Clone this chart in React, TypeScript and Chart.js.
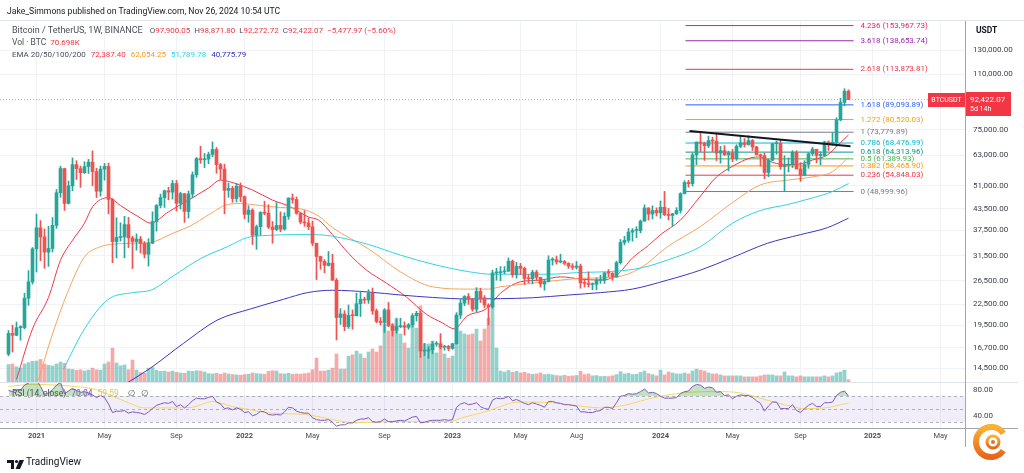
import React, { useEffect, useRef } from 'react';
import { Chart, registerables } from 'chart.js';

Chart.register(...registerables);

const FONT = 'Roboto, "Noto Sans", "DejaVu Sans", sans-serif';

// BINANCE BTCUSDT weekly candles, week index 0 = week of 2020-11-16
const opens = [
  15960, 18410, 18180, 19150, 19170, 23480, 26280,
  33000, 38150, 35830, 32260, 33090, 38800, 48580, 57410,
  45140, 50970, 59000, 57350, 55800, 58200, 60000, 56250, 49100,
  57200, 58240, 46400, 34700, 35700, 35800, 39000, 35600, 34700,
  35300, 34250, 31800, 34300, 39850, 44500, 47000, 49250, 48800,
  51800, 45200, 48300, 42700, 48200, 55000, 61500, 61000, 61300,
  63300, 65500, 59000, 57200, 49400, 50100, 46700, 50800,
  47300, 41850, 43100, 36250, 38450, 42400, 42200, 38350, 37700,
  38800, 37800, 41300, 46850, 46400, 42150, 39700, 39450, 38450,
  34300, 31300, 30280, 29450, 29900, 26580, 20550, 21050,
  19300, 20850, 20800, 22600, 23300, 23180, 24300, 21500, 20000,
  19850, 21650, 19400, 18800, 19300, 19400, 19200, 19550, 20800,
  21150, 16300, 16300, 16450, 17100, 17100, 16750, 16850,
  16600, 17150, 20900, 22700, 23750, 23300, 21750, 24600, 23550,
  22400, 22100, 27950, 27990, 28150, 28300, 30300, 27600, 29250,
  28850, 26900, 26850, 28100, 27100, 25900, 26350, 30550, 30600,
  30150, 30250, 29850, 29300, 29050, 29300, 26100, 26000, 25800,
  25850, 26550, 26550, 27950, 27900, 27150, 30000, 34500, 35000,
  37050, 37450, 37450, 39950, 43750, 41950, 43000,
  42300, 43950, 41750, 41550, 42050, 43000, 48300, 52150, 51750,
  63100, 68950, 68400, 67200, 69650, 69350, 63900, 64950, 63100,
  63900, 61500, 66950, 68550, 67750, 69650, 66650, 63200, 62750,
  55850, 60800, 68150, 68250, 58150, 58700, 58950, 64250, 57300,
  54850, 59150, 63600, 65600, 62850, 62850, 68950, 67950, 68750,
  80350, 90600, 97900.05,
];
const highs = [
  18790, 19500, 19920, 19420, 24300, 28400, 33300,
  41950, 40100, 37850, 38530, 40950, 49700, 58350, 57530,
  52650, 61800, 60600, 58400, 60200, 61200, 64850, 57500, 58400,
  59500, 59600, 46600, 40900, 39500, 41300, 41000, 36000, 36600,
  35950, 34700, 35400, 42600, 44800, 48150, 49500, 50500, 52900,
  52900, 48800, 48300, 49200, 56100, 62000, 67000, 63700, 64300,
  69000, 66400, 59500, 59200, 51950, 50800, 51850, 52000,
  47550, 44450, 43500, 38900, 42650, 45850, 44750, 39850, 45400,
  42600, 42350, 46900, 48200, 47200, 42450, 42950, 40800, 40000,
  34300, 31350, 30650, 32400, 31800, 26900, 21850, 21550,
  22400, 21650, 24300, 24650, 23650, 24900, 25200, 21800, 20550,
  21850, 22800, 19700, 20350, 20450, 19950, 19700, 21100, 21450,
  21500, 17200, 16800, 17400, 17400, 18400, 16950, 16950,
  17200, 21250, 23350, 23900, 24250, 23450, 25250, 25150, 23900,
  22600, 28500, 28850, 29200, 29200, 31000, 30550, 30050, 29850,
  29100, 27650, 28450, 28450, 27150, 26800, 31450, 31050, 31400,
  31800, 30450, 30000, 29800, 30250, 29700, 26800, 28150, 26100,
  27000, 27500, 28050, 28600, 28000, 30300, 35200, 35950, 38000,
  37950, 38450, 40250, 44700, 43800, 44400, 43800,
  45900, 49050, 43600, 42150, 43850, 48600, 52800, 52950, 64000,
  69000, 73780, 68900, 71800, 71300, 72800, 66900, 67250, 64750,
  65500, 67700, 71950, 70600, 71950, 70200, 66950, 63500, 63850,
  61350, 68400, 69400, 70000, 62750, 61800, 65000, 64950, 59800,
  60650, 64100, 66500, 65600, 64450, 69400, 69500, 73600, 81500,
  93250, 99600, 98871.8,
];
const lows = [
  15770, 16190, 18110, 17570, 19000, 22350, 25880,
  28130, 30420, 28850, 29240, 32300, 38000, 47100, 43000,
  44950, 49300, 53270, 50430, 55500, 55500, 51000, 47000, 47450,
  53000, 42000, 30000, 31000, 34800, 31000, 33300, 28800, 32700,
  32100, 31000, 29300, 34200, 37300, 43800, 43900, 46300, 46500,
  42800, 43400, 39600, 40800, 46900, 54000, 59500, 57800, 59400,
  62300, 55600, 53200, 42000, 47100, 45500, 45600, 45700,
  40600, 39650, 34000, 32900, 36250, 41700, 37950, 34300, 37450,
  37150, 37550, 40450, 45200, 41900, 39200, 38550, 37700, 33700,
  26700, 28650, 28000, 29300, 26560, 17600, 19600, 18750,
  19050, 18950, 20760, 20700, 22650, 22650, 21000, 19800, 19500,
  18550, 19300, 18100, 18450, 19150, 18200, 18950, 19250, 20050,
  15600, 15800, 15500, 16000, 16850, 16550, 16400, 16350,
  16500, 17100, 20400, 22300, 22500, 21450, 21350, 22800, 21950,
  19550, 21900, 26600, 26500, 27800, 28200, 27150, 26950, 27650,
  25800, 26100, 25900, 26500, 25350, 24800, 26250, 29500, 29700,
  29950, 29550, 28850, 28600, 28700, 25150, 25350, 25350, 24900,
  24900, 26000, 26000, 27200, 26550, 27150, 29700, 33900, 34500,
  34800, 35650, 36850, 39950, 40250, 40550, 41400,
  40750, 41500, 40250, 38550, 41850, 42250, 48150, 50500, 50900,
  59000, 64500, 60750, 66300, 64500, 60650, 59600, 62800, 56550,
  60200, 60750, 66300, 66600, 67450, 65050, 63000, 58400, 53500,
  54250, 60600, 63400, 57100, 49000, 56100, 57800, 57200, 52550,
  54600, 57500, 62700, 59800, 58900, 62450, 65050, 67450, 66850,
  79800, 88600, 92272.72,
];
const closes = [
  18410, 18180, 19150, 19170, 23480, 26280, 33000,
  38150, 35830, 32260, 33090, 38800, 48580, 57410, 45140,
  50970, 59000, 57350, 55800, 58200, 60000, 56250, 49100, 57200,
  58240, 46400, 34700, 35700, 35800, 39000, 35600, 34700, 35300,
  34250, 31800, 34300, 39850, 44500, 47000, 49250, 48800, 51800,
  45200, 48300, 42700, 48200, 55000, 61500, 61000, 61300, 63300,
  65500, 59000, 57200, 49400, 50100, 46700, 50800, 47300,
  41850, 43100, 36250, 38450, 42400, 42200, 38350, 37700, 38800,
  37800, 41300, 46850, 46400, 42150, 39700, 39450, 38450, 34300,
  31300, 30280, 29450, 29900, 26580, 20550, 21050, 19300,
  20850, 20800, 22600, 23300, 23180, 24300, 21500, 20000, 19850,
  21650, 19400, 18800, 19300, 19400, 19200, 19550, 20800, 21150,
  16300, 16300, 16450, 17100, 17100, 16750, 16850, 16600,
  17150, 20900, 22700, 23750, 23300, 21750, 24600, 23550, 22400,
  22100, 27950, 27990, 28150, 28300, 30300, 27600, 29250, 28850,
  26900, 26850, 28100, 27100, 25900, 26350, 30550, 30600, 30150,
  30250, 29850, 29300, 29050, 29300, 26100, 26000, 25800, 25850,
  26550, 26550, 27950, 27900, 27150, 30000, 34500, 35000, 37050,
  37450, 37450, 39950, 43750, 41950, 43000, 42300,
  43950, 41750, 41550, 42050, 43000, 48300, 52150, 51750, 63100,
  68950, 68400, 67200, 69650, 69350, 63900, 64950, 63100, 63900,
  61500, 66950, 68550, 67750, 69650, 66650, 63200, 62750, 55850,
  60800, 68150, 68250, 58150, 58700, 58950, 64250, 57300, 54850,
  59150, 63600, 65600, 62850, 62850, 68950, 67950, 68750, 80350,
  90600, 97900.05, 92422.07,
];
// Volume in thousands of BTC
const volumesK = [
  540, 560, 470, 430, 560, 600, 640,
  650, 700, 560, 520, 500, 560, 620, 580,
  400, 390, 360, 380, 340, 370, 430, 380, 370,
  560, 620, 1050, 590, 500, 530, 380, 680, 370,
  290, 270, 430, 450, 360, 330, 340, 310, 340,
  300, 280, 270, 340, 330, 350, 340, 310, 260,
  250, 270, 240, 280, 250, 230, 220, 210,
  230, 240, 280, 260, 250, 240, 330, 350, 340,
  260, 250, 270, 240, 250, 240, 260, 280, 380,
  740, 340, 340, 370, 430, 870, 400, 400,
  800, 840, 960, 870, 740, 930, 1020, 930, 1120,
  1800, 1580, 1800, 1980, 1490, 1210, 1050, 2050, 1670,
  2360, 1180, 1180, 1270, 900, 1210, 870, 740,
  800, 2050, 1580, 1490, 1460, 1490, 1640, 1270, 1640,
  1980, 2480, 1050, 340, 310, 360, 300, 330, 280,
  300, 260, 240, 250, 280, 230, 240, 220, 200,
  190, 210, 180, 190, 200, 330, 230, 250, 190,
  200, 170, 180, 170, 190, 230, 320, 250, 270,
  230, 240, 300, 340, 260, 230, 190,
  370, 220, 310, 280, 250, 250, 280, 250, 340,
  400, 370, 340, 280, 250, 250, 220, 190, 190,
  190, 190, 190, 160, 160, 160, 160, 190, 220,
  220, 220, 190, 190, 310, 190, 190, 160, 190,
  160, 160, 160, 160, 160, 190, 160, 190, 280,
  310, 370, 70.698,
];
const rsiValues = [
  79, 77, 80, 79, 87, 90, 94,
  95, 85, 73, 75, 80, 87, 91, 74,
  78, 82, 79, 76, 77, 75, 72, 68, 71,
  68, 58, 45, 47, 47, 48, 44, 46, 45,
  44, 42, 46, 51, 56, 58, 60, 59, 62,
  54, 57, 52, 57, 63, 67, 66, 66, 68,
  70, 61, 58, 51, 52, 49, 52, 50,
  45, 46, 40, 42, 47, 46, 42, 41, 42,
  41, 46, 53, 52, 47, 45, 44, 44, 37,
  34, 33, 33, 34, 30, 24, 26, 26,
  29, 29, 33, 35, 35, 37, 31, 30, 31,
  35, 31, 31, 32, 33, 32, 35, 38, 39,
  29, 30, 32, 33, 33, 33, 34, 33,
  34, 53, 58, 60, 57, 58, 60, 54, 51,
  50, 64, 67, 66, 67, 70, 63, 65, 62,
  59, 57, 60, 58, 56, 53, 62, 62, 60,
  59, 57, 57, 56, 55, 46, 46, 45, 45,
  47, 48, 53, 53, 51, 60, 70, 71, 74,
  73, 74, 77, 81, 75, 76, 74,
  70, 67, 67, 67, 68, 74, 77, 78, 85,
  88, 87, 82, 84, 83, 76, 77, 71, 72,
  66, 70, 72, 71, 71, 68, 63, 59, 47,
  55, 61, 61, 51, 51, 51, 57, 48, 45,
  51, 56, 59, 54, 54, 60, 60, 61, 71,
  76, 78, 70.04,
];
const rsiMaIdx = [0, 6, 12, 18, 22, 26, 30, 34, 40, 46, 51, 56, 60, 64, 70, 74, 78, 82, 87, 95, 105, 110, 114, 118, 123, 127, 131, 136, 140, 144, 148, 152, 156, 160, 164, 170, 177, 183, 189, 194, 199, 204, 210];
const rsiMaVal = [85, 88, 87, 84, 80, 70, 60, 52, 52, 53, 62, 54, 50, 45, 43, 42, 38, 33, 29, 31, 31, 31, 38, 44, 54, 61, 61, 60, 57, 54, 52, 54, 59, 66, 71, 76, 77, 75, 65, 57, 51, 52, 59.59];

const ema20Idx = [2, 6, 10, 13, 16, 19, 21, 25, 28, 33, 35.5, 40, 45, 50, 53, 56.5, 61, 66, 70.5, 75, 77.5, 81, 85, 89.5, 94.5, 99.5, 104.5, 108.5, 111.5, 114.5, 119.5, 123, 128, 133, 138, 143, 148, 152, 156, 160, 163, 168, 173, 177, 181, 185.5, 188, 191, 194.75, 198, 201, 204.75, 208, 210];
const ema20Val = [13400, 19000, 23600, 30500, 35000, 39400, 44100, 47000, 44500, 40800, 39400, 42600, 46200, 50200, 53000, 51900, 49500, 46200, 44100, 41100, 40250, 36400, 32000, 28500, 26050, 23650, 21000, 19800, 19000, 20700, 21850, 24300, 26300, 26600, 27200, 26800, 26600, 27500, 31000, 33800, 36400, 40250, 47500, 54200, 58300, 61800, 62200, 59900, 59000, 59300, 60900, 63100, 68700, 72387.4];
const ema50Idx = [7.5, 10.5, 14.75, 19, 23, 25.5, 31, 35.5, 41, 45.5, 50, 54.75, 58, 63, 68, 73, 77.5, 81, 90, 98, 106, 115, 120, 123, 131, 138, 144, 152, 158, 164.75, 173, 181, 188, 194.75, 201, 206, 210];
const ema50Val = [13350, 17600, 24400, 31200, 33500, 34000, 34300, 34500, 36700, 38700, 41700, 44800, 45100, 44500, 43900, 43500, 41400, 38200, 33000, 28150, 25400, 25000, 25000, 25400, 26050, 26600, 26950, 27200, 28900, 33500, 38500, 45400, 51300, 53000, 54200, 56200, 62054.25];
const ema100Idx = [13.75, 19, 24.75, 31, 35.5, 41.25, 48, 54.75, 59.75, 64.75, 71.25, 76.25, 81, 90, 98, 106, 115, 121, 127, 135.5, 142, 152, 158, 164.75, 173, 181, 188, 194.75, 201, 206, 210];
const ema100Val = [14400, 19000, 23200, 24400, 24800, 27400, 30850, 33500, 35700, 36200, 36400, 36400, 36000, 34000, 31600, 29700, 28200, 27700, 27700, 27700, 28000, 28300, 28900, 30550, 33500, 39400, 43000, 44800, 46900, 49000, 51789.78];
const ema200Idx = [29.75, 35.5, 43.75, 52.25, 60.5, 68.75, 74.75, 81, 90, 98, 106, 115, 123, 131, 140, 148, 156, 164.75, 173, 181, 189.75, 198, 204.75, 210];
const ema200Val = [13100, 14500, 17200, 20200, 21800, 23300, 24400, 24800, 24500, 24000, 23600, 23350, 23400, 23550, 24000, 24400, 25000, 26600, 28500, 31100, 34300, 36400, 38200, 40775.79];

const timeTickIdx = [7, 24, 42, 59, 76, 94, 111, 128, 142, 163, 181, 198, 216, 233];
const timeTickLabels = ['2021', 'May', 'Sep', '2022', 'May', 'Sep', '2023', 'May', 'Aug', '2024', 'May', 'Sep', '2025', 'May'];
const priceTicks = [130000, 110000, 75000, 63000, 51000, 43500, 37500, 31500, 26500, 22500, 19500, 16700, 14500];
const rsiTicks = [80, 40];

const fibRatios = ['4.236', '3.618', '2.618', '1.618', '1.272', '1', '0.786', '0.618', '0.5', '0.382', '0.236', '0'];
const fibPrices = [153967.73, 138653.74, 113873.81, 89093.89, 80520.03, 73779.89, 68476.99, 64313.96, 61389.93, 58465.9, 54848.03, 48999.96];
const fibColors = ['#e91e63', '#9c27b0', '#f23645', '#2962ff', '#f0a30a', '#787b86', '#00bcd4', '#089981', '#4caf50', '#ff9800', '#f23645', '#787b86'];
const fibStartIdx = 169.25;
const fibEndIdx = 211.25;
const fibLabelIdx = 213;

const trendIdx = [170.25, 210.5];
const trendPrice = [74400, 67000];

const UP = '#26a69a';
const DOWN = '#ef5350';
const UP_VOL = 'rgba(38,166,154,0.5)';
const DOWN_VOL = 'rgba(239,83,80,0.5)';
const TAG_RED = '#f23645';

const fmt2 = (v: number) => v.toLocaleString('en-US', { minimumFractionDigits: 2, maximumFractionDigits: 2 });

export default function App() {
  const ref = useRef<HTMLCanvasElement | null>(null);

  useEffect(() => {
    if (!ref.current) return;
    Chart.defaults.font.family = FONT;
    const N = Math.min(opens.length, highs.length, lows.length, closes.length, volumesK.length, rsiValues.length);
    const weeks = Array.from({ length: N }, (_, i) => i);
    const isUp = (i: number) => closes[i] >= opens[i];
    const lastClose = closes[N - 1];

    const lineDs = (xs: number[], ys: number[], color: string, width: number, extra: any = {}) => ({
      type: 'line',
      data: xs.map((x, k) => ({ x, y: ys[k] })),
      borderColor: color,
      borderWidth: width,
      pointRadius: 0,
      fill: false,
      yAxisID: 'y',
      ...extra,
    });

    const datasets: any[] = [
      {
        type: 'bar',
        data: weeks.map((i) => ({ x: i, y: volumesK[i] })),
        backgroundColor: weeks.map((i) => (isUp(i) ? UP_VOL : DOWN_VOL)),
        barThickness: 3,
        grouped: false,
        yAxisID: 'vol',
        order: 30,
      },
      ...fibPrices.map((p, k) =>
        lineDs([fibStartIdx, fibEndIdx], [p, p], fibColors[k], 1, { order: 20 })
      ),
      lineDs([-2.125, 239.125], [lastClose, lastClose], 'rgba(242,54,69,0.55)', 1, { borderDash: [1, 2], order: 19 }),
      lineDs(ema200Idx, ema200Val, '#3f35c4', 1, { cubicInterpolationMode: 'monotone', order: 10 }),
      lineDs(ema100Idx, ema100Val, '#2fd3e3', 1, { cubicInterpolationMode: 'monotone', order: 10 }),
      lineDs(ema50Idx, ema50Val, '#f7a35c', 1, { cubicInterpolationMode: 'monotone', order: 10 }),
      lineDs(ema20Idx, ema20Val, '#f23645', 1, { cubicInterpolationMode: 'monotone', order: 10 }),
      {
        type: 'bar',
        data: weeks.map((i) => ({ x: i, y: [lows[i], highs[i]] })),
        backgroundColor: weeks.map((i) => (isUp(i) ? UP : DOWN)),
        barThickness: 1,
        grouped: false,
        yAxisID: 'y',
        order: 4,
      },
      {
        type: 'bar',
        data: weeks.map((i) => ({ x: i, y: [opens[i], closes[i]] })),
        backgroundColor: weeks.map((i) => (isUp(i) ? UP : DOWN)),
        barThickness: 3,
        minBarLength: 1,
        grouped: false,
        yAxisID: 'y',
        order: 3,
      },
      lineDs(trendIdx, trendPrice, '#131722', 2, { order: 1 }),
      {
        type: 'line',
        data: rsiMaIdx.map((x, k) => ({ x, y: rsiMaVal[k] })),
        borderColor: '#f2d95c',
        borderWidth: 1,
        pointRadius: 0,
        cubicInterpolationMode: 'monotone',
        fill: false,
        yAxisID: 'rsi',
        order: 6,
      },
      {
        type: 'line',
        data: weeks.map((i) => ({ x: i, y: rsiValues[i] })),
        borderColor: '#7e57c2',
        borderWidth: 1,
        pointRadius: 0,
        fill: { target: { value: 70 }, above: 'rgba(76,175,80,0.35)', below: 'rgba(0,0,0,0)' },
        yAxisID: 'rsi',
        order: 5,
      },
    ];

    const decor = {
      id: 'decor',
      beforeDatasetsDraw(chart: any) {
        const { ctx, chartArea: ca, scales } = chart;
        const r = scales.rsi;
        const y70 = r.getPixelForValue(70);
        const y50 = r.getPixelForValue(50);
        const y30 = r.getPixelForValue(30);
        ctx.save();
        ctx.fillStyle = 'rgba(126,87,194,0.1)';
        ctx.fillRect(ca.left, y70, ca.right - ca.left, y30 - y70);
        ctx.setLineDash([3, 3]);
        ctx.strokeStyle = 'rgba(120,123,134,0.55)';
        ctx.lineWidth = 1;
        [y70, y50, y30].forEach((y) => {
          const yy = Math.round(y) + 0.5;
          ctx.beginPath();
          ctx.moveTo(ca.left, yy);
          ctx.lineTo(ca.right, yy);
          ctx.stroke();
        });
        ctx.restore();
      },
      afterDraw(chart: any) {
        const { ctx, chartArea: ca, scales } = chart;
        const xs = scales.x;
        const ys = scales.y;
        ctx.save();
        ctx.lineWidth = 1;
        ctx.strokeStyle = '#e0e3eb';
        ctx.beginPath();
        ctx.moveTo(0, ca.top - 0.5);
        ctx.lineTo(1024, ca.top - 0.5);
        ctx.moveTo(0, Math.round(scales.rsi.top) + 0.5);
        ctx.lineTo(1018, Math.round(scales.rsi.top) + 0.5);
        ctx.stroke();
        ctx.strokeStyle = '#a3a6af';
        ctx.beginPath();
        ctx.moveTo(0, ca.bottom + 0.5);
        ctx.lineTo(1018, ca.bottom + 0.5);
        ctx.moveTo(ca.right + 0.5, ca.top);
        ctx.lineTo(ca.right + 0.5, 447);
        ctx.stroke();

        ctx.font = `8px ${FONT}`;
        ctx.textBaseline = 'middle';
        ctx.textAlign = 'left';
        const lx = xs.getPixelForValue(fibLabelIdx);
        fibPrices.forEach((p, k) => {
          ctx.fillStyle = fibColors[k];
          ctx.fillText(`${fibRatios[k]} (${fmt2(p)})`, lx, ys.getPixelForValue(p));
        });

        const py = Math.round(ys.getPixelForValue(closes[closes.length - 1]));
        ctx.fillStyle = TAG_RED;
        ctx.fillRect(928, py - 7, 37, 14);
        ctx.fillRect(ca.right + 1, py - 8, 45, 24);
        ctx.fillStyle = '#ffffff';
        ctx.font = `7px ${FONT}`;
        ctx.textAlign = 'center';
        ctx.fillText('BTCUSDT', 946.5, py);
        ctx.font = `8px ${FONT}`;
        ctx.textAlign = 'left';
        ctx.fillText(fmt2(closes[closes.length - 1]), ca.right + 5, py - 0.5);
        ctx.font = `7px ${FONT}`;
        ctx.fillText('5d 14h', ca.right + 5, py + 9);
        ctx.restore();
      },
    };

    const tickFont = { family: FONT, size: 8 };
    const chart = new Chart(ref.current, {
      type: 'bar',
      data: { datasets },
      options: {
        animation: false,
        responsive: false,
        events: [],
        layout: { padding: { top: 21, bottom: 26, left: 0, right: 0 } },
        plugins: { legend: { display: false }, tooltip: { enabled: false } },
        scales: {
          x: {
            type: 'linear',
            min: -2.125,
            max: 239.125,
            offset: false,
            grid: { color: '#f0f2f5', drawTicks: false, offset: false },
            border: { display: false },
            ticks: {
              autoSkip: false,
              maxRotation: 0,
              padding: 4,
              color: '#4a4e59',
              font: (c: any) => ({
                family: FONT,
                size: 7.5,
                weight: c.tick && /^\d{4}$/.test(timeTickLabels[timeTickIdx.indexOf(c.tick.value)] || '') ? 'bold' : 'normal',
              }),
              callback: (v: any) => {
                const k = timeTickIdx.indexOf(Number(v));
                return k >= 0 ? timeTickLabels[k] : '';
              },
            },
            afterBuildTicks: (s: any) => {
              s.ticks = timeTickIdx.map((v) => ({ value: v }));
            },
            afterFit: (s: any) => {
              s.height = 19;
            },
          },
          y: {
            type: 'logarithmic',
            position: 'right',
            stack: 'panes',
            stackWeight: 361,
            weight: 0,
            min: 13170,
            max: 158900,
            grid: { color: '#f0f2f5', drawTicks: false },
            border: { display: false },
            ticks: {
              autoSkip: false,
              padding: 8,
              color: '#3b3f4a',
              font: tickFont,
              callback: (v: any) => fmt2(Number(v)),
            },
            afterBuildTicks: (s: any) => {
              s.ticks = priceTicks.map((v) => ({ value: v }));
            },
            afterFit: (s: any) => {
              s.width = 59;
            },
          },
          rsi: {
            type: 'linear',
            position: 'right',
            stack: 'panes',
            stackWeight: 46,
            weight: 1,
            min: 21.2,
            max: 91.8,
            grid: { display: false, drawTicks: false },
            border: { display: false },
            ticks: {
              autoSkip: false,
              padding: 8,
              color: '#3b3f4a',
              font: tickFont,
              callback: (v: any) => Number(v).toFixed(2),
            },
            afterBuildTicks: (s: any) => {
              s.ticks = rsiTicks.map((v) => ({ value: v }));
            },
            afterFit: (s: any) => {
              s.width = 59;
            },
          },
          vol: {
            type: 'linear',
            display: false,
            position: 'left',
            min: -1426,
            max: 11191,
          },
        },
      } as any,
      plugins: [decor],
    } as any);
    return () => chart.destroy();
  }, []);

  const N = closes.length;
  const txt: React.CSSProperties = { position: 'absolute', whiteSpace: 'nowrap', fontFamily: FONT, lineHeight: '11px' };
  const gray = '#4a4e59';
  const red = '#f23645';
  const val = { fontSize: 8 };
  const gap = { marginLeft: 4, fontSize: 8 };

  return (
    <div style={{ position: 'fixed', left: 0, top: 0, width: 1024, height: 473, background: '#ffffff', overflow: 'hidden' }}>
      <canvas ref={ref} width={1024} height={473} style={{ display: 'block', width: 1024, height: 473 }} />
      <div style={{ ...txt, left: 7, top: 6, fontSize: 8.6, color: '#131722' }}>
        Jake_Simmons published on TradingView.com, Nov 26, 2024 10:54 UTC
      </div>
      <div style={{ ...txt, left: 12, top: 25, fontSize: 9, color: gray }}>
        <span>Bitcoin / TetherUS, 1W, BINANCE</span>
        <span style={{ marginLeft: 7, fontSize: 8 }}>O</span><span style={{ ...val, color: red }}>{fmt2(opens[N - 1])}</span>
        <span style={gap}>H</span><span style={{ ...val, color: red }}>{fmt2(highs[N - 1])}</span>
        <span style={gap}>L</span><span style={{ ...val, color: red }}>{fmt2(lows[N - 1])}</span>
        <span style={gap}>C</span><span style={{ ...val, color: red }}>{fmt2(closes[N - 1])}</span>
        <span style={{ ...gap, color: red }}>−5,477.97 (−5.60%)</span>
      </div>
      <div style={{ ...txt, left: 12, top: 37, fontSize: 8.5, color: gray }}>
        <span>Vol · BTC</span>
        <span style={{ ...gap, color: red }}>{volumesK[N - 1].toFixed(3)}K</span>
      </div>
      <div style={{ ...txt, left: 12, top: 49, fontSize: 8, color: gray }}>
        <span>EMA 20/50/100/200</span>
        <span style={{ marginLeft: 5, color: '#f23645' }}>{fmt2(ema20Val[ema20Val.length - 1])}</span>
        <span style={{ marginLeft: 5, color: '#f59a23' }}>{fmt2(ema50Val[ema50Val.length - 1])}</span>
        <span style={{ marginLeft: 5, color: '#2fd3e3' }}>{fmt2(ema100Val[ema100Val.length - 1])}</span>
        <span style={{ marginLeft: 5, color: '#2f2fb8' }}>{fmt2(ema200Val[ema200Val.length - 1])}</span>
      </div>
      <div style={{ ...txt, left: 12, top: 388, fontSize: 8.5, color: gray }}>
        <span>RSI (14, close)</span>
        <span style={{ marginLeft: 5, color: '#7e57c2' }}>{rsiValues[N - 1].toFixed(2)}</span>
        <span style={{ marginLeft: 5, color: '#e8c440' }}>{rsiMaVal[rsiMaVal.length - 1].toFixed(2)}</span>
        <span style={{ marginLeft: 9 }}>∅</span>
        <span style={{ marginLeft: 6 }}>∅</span>
      </div>
      <div style={{ ...txt, left: 976, top: 25, fontSize: 8.5, fontWeight: 'bold', color: '#131722' }}>USDT</div>
      <div style={{ position: 'absolute', left: 7, top: 456 }}>
        <svg width="18" height="11" viewBox="0 0 18 11">
          <path d="M0 1h7v9H4V4H0z" fill="#131722" />
          <circle cx="9.5" cy="2.5" r="1.6" fill="#131722" />
          <path d="M12.5 1H17l-4 9H8.6z" fill="#131722" />
        </svg>
      </div>
      <div style={{ ...txt, left: 26, top: 456, fontSize: 10, lineHeight: '12px', color: '#131722' }}>TradingView</div>
      <div style={{ position: 'absolute', left: 971, top: 422 }}>
        <svg width="40" height="40" viewBox="0 0 40 40">
          <defs>
            <linearGradient id="lg" x1="0" y1="0" x2="0" y2="1">
              <stop offset="0" stopColor="#f9b233" />
              <stop offset="1" stopColor="#e8661c" />
            </linearGradient>
          </defs>
          <path d="M32.3 11.4 A15 15 0 1 0 32.3 28.6" fill="none" stroke="url(#lg)" strokeWidth="6" />
          <circle cx="22" cy="20" r="6" fill="none" stroke="url(#lg)" strokeWidth="3" />
          <circle cx="22" cy="20" r="2" fill="#e8731c" />
        </svg>
      </div>
    </div>
  );
}
